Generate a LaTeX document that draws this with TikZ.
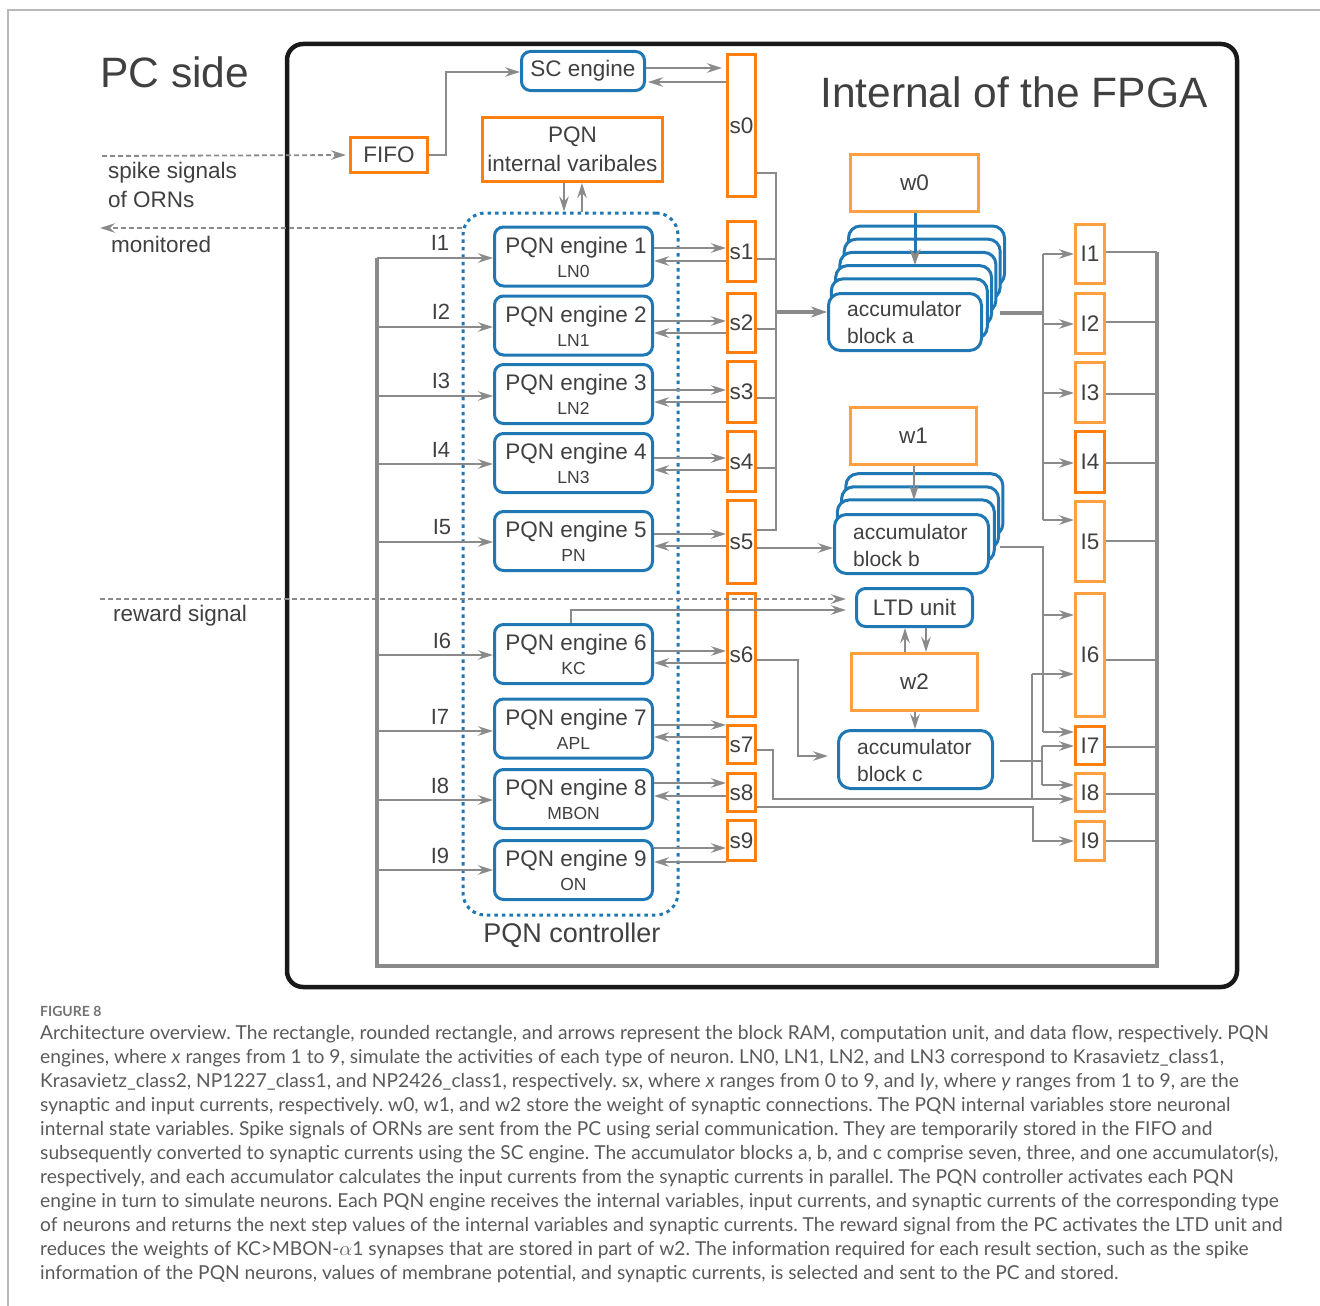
\documentclass[tikz,border=0pt]{standalone}
\usepackage{fontspec}
\setmainfont{Liberation Sans}
\newfontfamily\capfont{Lato}
\usetikzlibrary{arrows.meta}
\definecolor{ora}{HTML}{FF7F0E}
\definecolor{orl}{HTML}{FFA040}
\definecolor{blu}{HTML}{1F77B4}
\definecolor{gry}{HTML}{8A8A8A}
\definecolor{txt}{HTML}{404040}
\definecolor{capc}{HTML}{5A5A5A}
\newcommand\fsz[2]{\fontsize{#1}{#2}\selectfont}
\tikzset{
  obox/.style={draw=ora, line width=3, fill=white, inner sep=0, text=txt, font=\fsz{22.5}{27}},
  olbox/.style={obox, draw=orl},
  bbox/.style={draw=blu, line width=3, rounded corners=9, fill=white, inner sep=0, text=txt, font=\fsz{22.5}{27}},
  flow/.style={draw=gry, line width=2},
  arr/.style={flow, -{Stealth[length=15,width=9.5,inset=5]}},
  thickflow/.style={draw=gry, line width=4.5},
  dashflow/.style={draw=gry, line width=1.8, dash pattern=on 5 off 3, -{Stealth[length=15,width=9.5,inset=5]}},
  lbl/.style={text=txt, inner sep=0, font=\fsz{22.5}{27}},
  layer/.style={draw=blu, line width=3, fill=white, rounded corners=12},
}
\begin{document}
\begin{tikzpicture}[x=1pt,y=-1pt]
\useasboundingbox (0,0) rectangle (1320,1306);
% figure frame
\draw[gray!55, line width=1.5] (8,1306) -- (8,10) -- (1320,10);
% FPGA box
\draw[black!90, line width=4.5, rounded corners=16] (287,44) rectangle (1237,987);
\node[lbl, font=\fsz{42.5}{50}, anchor=base west] (pcside) at (100,88) {PC side};
\node[lbl, font=\fsz{42.5}{50}, anchor=base west] (fpgat) at (820,107) {Internal of the FPGA};

% left texts
\node[lbl, anchor=base west, align=left, font=\fsz{22.5}{29}] (spk) at (108,207) {spike signals\\of ORNs};
\node[lbl, anchor=base west] (mon) at (111,252) {monitored};
\node[lbl, anchor=base west] (rew) at (113,621) {reward signal};
\coordinate (spkL) at (102,156);
\coordinate (monL) at (100,228);
\coordinate (rewL) at (100,599);

% top blocks
\node[bbox, minimum width=123, minimum height=39] (sc) at (583,71) {SC engine};
\node[obox, minimum width=77, minimum height=35] (fifo) at (389,155) {FIFO};
\node[obox, minimum width=180, minimum height=64, align=center, font=\fsz{22.5}{29}] (pint) at (572.5,149.5) {PQN\\internal varibales};

% PQN controller
\node[draw=blu, line width=3, dash pattern=on 3.5 off 4, rounded corners=22, minimum width=215, minimum height=702, inner sep=0] (ctrlbox) at (570.5,564) {};
\node[lbl, font=\fsz{27}{32}] (ctrl) at (572,935) {PQN controller};

% s boxes
\foreach \n/\cy/\h in {0/125.5/142, 1/251.5/60, 2/323/59, 3/392/61, 4/461.5/60, 5/542/83, 6/655/123, 7/744.5/38, 8/792.5/38, 9/840.5/40}{
  \node[obox, minimum width=28, minimum height=\h] (s\n) at (741.5,\cy) {s\n};
}
% I boxes
\foreach \n/\cy/\h/\c in {1/254/59/orl, 2/323.5/60/orl, 3/392.5/60/orl, 4/462/61/ora, 5/541.5/80/orl, 6/655/123/orl, 7/745.5/38/ora, 8/792.5/38/orl, 9/841/39/orl}{
  \node[obox, draw=\c, minimum width=29, minimum height=\h] (I\n) at (1090,\cy) {I\n};
}

% engines
\foreach \i/\cy/\sub/\yo/\yb/\ya/\lx/\ly in {1/256.5/LN0/248/261/258/440/243, 2/325.5/LN1/321/333/327/441/312, 3/394/LN2/390/402/396/441/381, 4/463/LN3/458/470/464/441/450, 5/541/PN/534/546/542/442/527, 6/654/KC/651/663/655/442/641, 7/728.5/APL/725/737/731/440/717, 8/799/MBON/783/796/800/440/786, 9/870/ON/848/862/870/440/856}{
  \node[bbox, minimum width=158, minimum height=59] (e\i) at (573.5,\cy) {};
  \node[lbl] (e\i m) at (576,\cy-9) {PQN engine \i};
  \node[lbl, font=\fsz{17.5}{20}] (e\i s) at (573.5,\cy+14.5) {\sub};
  \node[lbl, font=\fsz{22}{26}] (lab\i) at (\lx,\ly) {I\i};
  \draw[arr] (e\i.east |- 0,\yo) -- (s\i.west |- 0,\yo);
  \draw[arr] (s\i.west |- 0,\yb) -- (e\i.east |- 0,\yb);
  \draw[arr] (377,\ya) -- (e\i.west |- 0,\ya);
}

% accumulator a
\foreach \k in {5,4,3,2,1}{
  \draw[layer] (827+4.3*\k,292-13.2*\k) rectangle ++(156,60);
}
\node[bbox, rounded corners=12, minimum width=153, minimum height=57] (acca) at (905,322) {};
\node[lbl, anchor=west, align=left, font=\fsz{21}{27}] (accat) at (847,322) {accumulator\\block a};
% accumulator b
\foreach \k in {3,2,1}{
  \draw[layer] (833+4.3*\k,513-13.1*\k) rectangle ++(157,62);
}
\node[bbox, rounded corners=12, minimum width=154, minimum height=59] (accb) at (911.5,544) {};
\node[lbl, anchor=west, align=left, font=\fsz{21}{27}] (accbt) at (853,545) {accumulator\\block b};
% accumulator c
\node[bbox, rounded corners=12, minimum width=154, minimum height=58] (accc) at (915.5,759.5) {};
\node[lbl, anchor=west, align=left, font=\fsz{21}{27}] (accct) at (857,760) {accumulator\\block c};

% weights and LTD
\node[olbox, minimum width=128, minimum height=57] (w0) at (914.5,183) {w0};
\node[olbox, minimum width=126, minimum height=57] (w1) at (913.5,436) {w1};
\node[olbox, minimum width=126, minimum height=57] (w2) at (914.5,682) {w2};
\node[bbox, minimum width=116, minimum height=38] (ltd) at (914.5,607.5) {LTD unit};

% PC side connections
\draw[dashflow, shorten >=3] (spkL) -- (fifo.west);
\draw[dashflow] (ctrlbox.west |- monL) -- (monL);
\draw[dashflow, shorten >=9] (rewL) -- (ltd.west |- rewL);

% FIFO / SC / s0
\draw[arr] (fifo.east) -| (446,72) -- (sc.west |- 0,72);
\draw[arr, shorten >=4] (sc.east |- 0,68) -- (s0.west |- 0,68);
\draw[arr, shorten >=2] (s0.west |- 0,82) -- (sc.east |- 0,82);
% internal variables
\draw[arr] (pint.south -| 564,0) -- (ctrlbox.north -| 564,0);
\draw[arr] (ctrlbox.north -| 582,0) -- (pint.south -| 582,0);

% input current loop
\coordinate (busR) at (1157,252);
\coordinate (busBR) at (1157,966);
\coordinate (busBL) at (377,966);
\coordinate (busL) at (377,258);
\draw[thickflow] (busR) -- (busBR) -- (busBL) -- (busL);
\foreach \n/\y in {1/252, 2/322, 3/394, 4/463, 5/541, 6/660, 7/747, 8/794, 9/841}{
  \draw[flow] (I\n.east |- 0,\y) -- (busR |- 0,\y);
}

% s bus to accumulator a
\draw[flow] (s0.east |- 0,173) -| (776,530) -- (s5.east |- 0,530);
\foreach \n/\y in {1/259, 2/329, 3/398, 4/468}{
  \draw[flow] (s\n.east |- 0,\y) -- (776,\y);
}
\draw[thickflow, -{Stealth[length=16,width=11,inset=5]}] (776,312) -- (acca.west |- 0,312);
\draw[arr] (s5.east |- 0,548) -- (accb.west |- 0,548);

% weights to accumulators
\coordinate (accaIn) at (915,265);
\coordinate (accbIn) at (914,500);
\draw[blu, line width=3, -{Stealth[length=16,width=11,inset=5,color=gry]}] (w0.south -| accaIn) -- (accaIn);
\draw[arr] (w1.south -| accbIn) -- (accbIn);

% LTD and w2
\draw[arr, shorten >=9] (e6.north -| 571,0) |- (ltd.west |- 0,610);
\draw[arr] (w2.north -| 905,0) -- (ltd.south -| 905,0);
\draw[arr] (ltd.south -| 926,0) -- (w2.north -| 926,0);
\draw[arr] (w2.south -| 915,0) -- (accc.north -| 915,0);
\draw[arr, shorten >=9] (s6.east |- 0,660) -| (798,756) -- (accc.west |- 0,756);

% accumulator a outputs
\draw[thickflow] (1000,313) -- (1043,313);
\draw[flow] (1043,254) -- (1043,520);
\foreach \n/\y in {1/254, 2/324, 3/393, 4/463, 5/520}{
  \draw[arr] (1043,\y) -- (I\n.west |- 0,\y);
}
% accumulator b outputs
\draw[flow] (1000,547) -| (1043,732);
\draw[arr] (1043,615) -- (I6.west |- 0,615);
\draw[arr] (1043,732) -- (I7.west |- 0,732);
% accumulator c outputs
\draw[flow] (1000,761) -- (1042,761);
\draw[flow] (1042,746) -- (1042,785);
\draw[arr] (1042,746) -- (I7.west |- 0,746);
\draw[arr] (1042,785) -- (I8.west |- 0,785);
% s7, s8 direct
\draw[arr] (s7.east |- 0,750) -- (773,750) |- (I8.west |- 0,799);
\draw[flow] (1032,799) -- (1032,674);
\draw[arr] (1032,674) -- (I6.west |- 0,674);
\draw[arr] (s8.east |- 0,807) -| (1033,841) -- (I9.west |- 0,841);

% caption
\node[anchor=base west, inner sep=0, text=capc!85, font=\capfont\bfseries\fsz{14}{17}] (figlab) at (40,1016) {FIGURE 8};
\node[anchor=north west, inner sep=0, align=left, text=capc, font=\capfont\frenchspacing\fsz{19.2}{24}] (cap) at (40,1025) {Architecture overview. The rectangle, rounded rectangle, and arrows represent the block RAM, computation unit, and data flow, respectively. PQN\\
engines, where \textit{x} ranges from 1 to 9, simulate the activities of each type of neuron. LN0, LN1, LN2, and LN3 correspond to Krasavietz\_class1,\\
Krasavietz\_class2, NP1227\_class1, and NP2426\_class1, respectively. s\textit{x}, where \textit{x} ranges from 0 to 9, and I\textit{y}, where \textit{y} ranges from 1 to 9, are the\\
synaptic and input currents, respectively. w0, w1, and w2 store the weight of synaptic connections. The PQN internal variables store neuronal\\
internal state variables. Spike signals of ORNs are sent from the PC using serial communication. They are temporarily stored in the FIFO and\\
subsequently converted to synaptic currents using the SC engine. The accumulator blocks a, b, and c comprise seven, three, and one accumulator(s),\\
respectively, and each accumulator calculates the input currents from the synaptic currents in parallel. The PQN controller activates each PQN\\
engine in turn to simulate neurons. Each PQN engine receives the internal variables, input currents, and synaptic currents of the corresponding type\\
of neurons and returns the next step values of the internal variables and synaptic currents. The reward signal from the PC activates the LTD unit and\\
reduces the weights of KC>MBON-$\alpha$1 synapses that are stored in part of w2. The information required for each result section, such as the spike\\
information of the PQN neurons, values of membrane potential, and synaptic currents, is selected and sent to the PC and stored.};
\end{tikzpicture}
\end{document}
